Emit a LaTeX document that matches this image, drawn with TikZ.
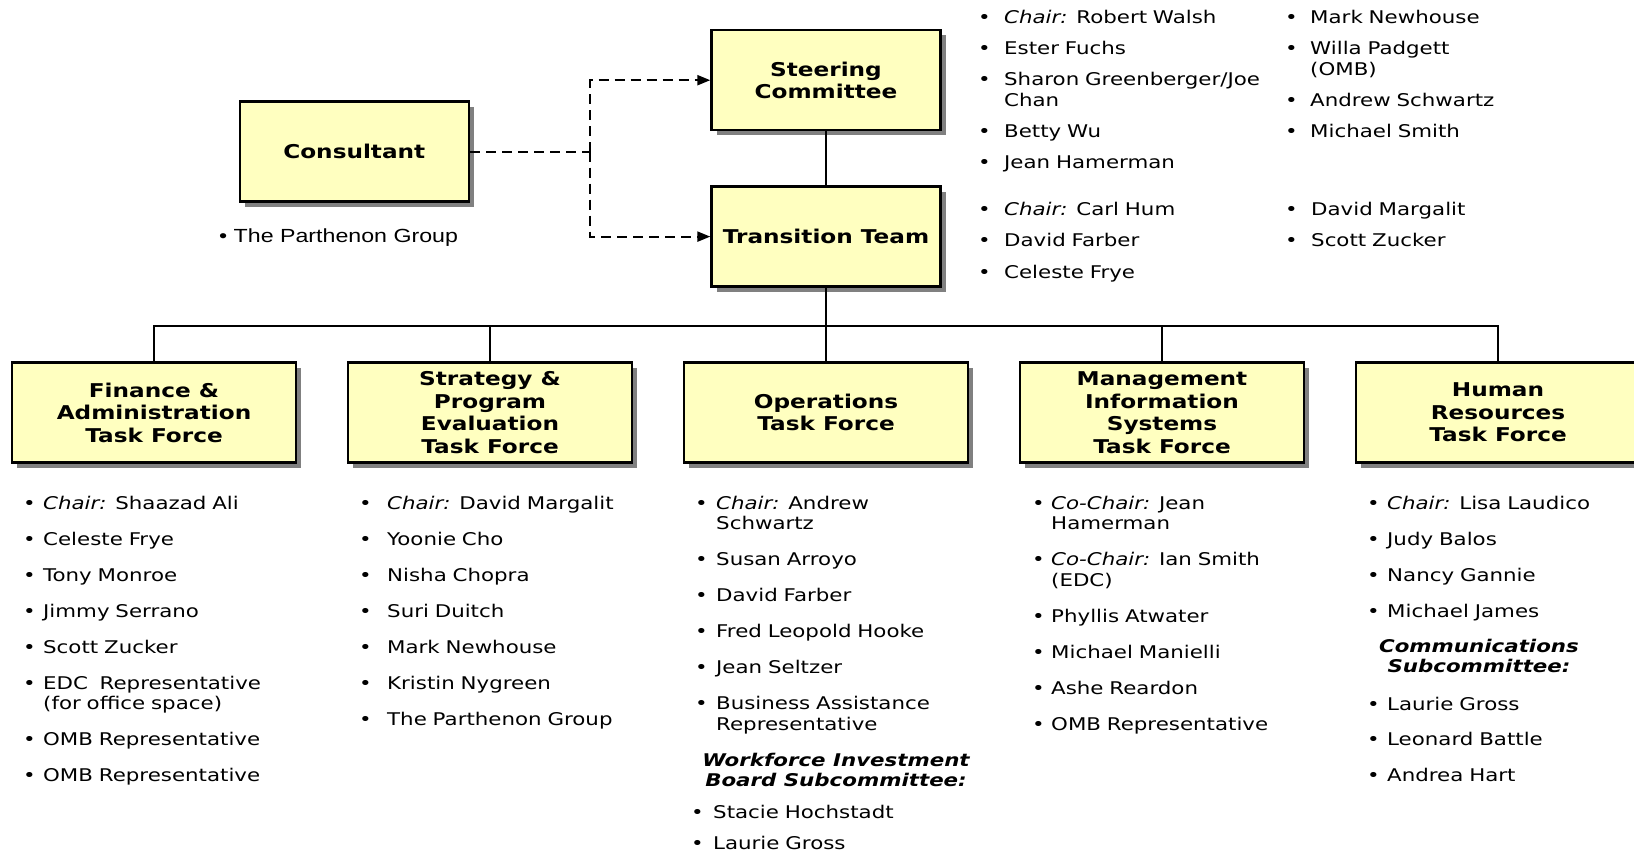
\documentclass[tikz,border=0pt]{standalone}
\usepackage{fontspec}
\setmainfont[FakeStretch=1.22]{DejaVu Sans}
\newfontfamily\arialfont[FakeStretch=1.22]{Liberation Sans}
\usetikzlibrary{arrows.meta,shadows}

\definecolor{boxyellow}{RGB}{255,255,192}
\newlength\bulletgap
\newcommand\titlefont{\fontsize{19}{22.5}\selectfont\bfseries}
\newcommand\listfont{\fontsize{17.5}{20.5}\selectfont}
\newcommand\li[1]{\noindent\hangindent=\bulletgap\hangafter=1\makebox[\bulletgap][l]{\textbullet}#1\par}
\newcommand\role[1]{\textit{#1:} }

\begin{document}
\begin{tikzpicture}[x=1pt, y=-1pt,
  sibling distance=336pt, level distance=176pt,
  orgbox/.style = {draw, line width=2.4pt, fill=boxyellow, align=center, font=\titlefont,
    minimum width=229pt, minimum height=100pt, inner sep=2pt,
    drop shadow={shadow xshift=5pt, shadow yshift=-5pt, fill=black!50, opacity=1}},
  taskbox/.style = {orgbox, minimum width=284pt},
  memberlist/.style 2 args = {anchor=north west, inner sep=0pt, text width=330pt, align=left,
    font=\listfont, execute at begin node={\setlength\bulletgap{#1}\setlength\parskip{#2}}},
  subhead/.style = {align=center, inner sep=0pt, font=\listfont\bfseries\itshape},
  link/.style = {line width=2.2pt, dash pattern=on 10pt off 6pt},
  linkarrow/.style = {-{Triangle[length=13pt, width=10pt]}},
  edge from parent/.style = {draw, line width=2.2pt},
  edge from parent path = {(\tikzparentnode.south) -- ++(0pt,-38.5pt) -| (\tikzchildnode.north)}]
  \path[use as bounding box, fill=white] (0,0) rectangle (1634,852);

  \node[orgbox] (cons) at (354.3,151.6) {Consultant};
  \node[anchor=west, inner sep=0pt, font=\arialfont\fontsize{19}{22}\selectfont] (consnote) at (219,237.5) {\textbullet\ The Parthenon Group};
  \node[orgbox] (steer) at (826,80.2) {Steering\\Committee};
  \node[orgbox] (trans) at (826,236.6) {Transition Team}
    child { node[taskbox] (fin) {Finance \&\\Administration\\Task Force} }
    child { node[taskbox] (strat) {Strategy \&\\Program\\Evaluation\\Task Force} }
    child { node[taskbox] (ops) {Operations\\Task Force} }
    child { node[taskbox] (mis) {Management\\Information\\Systems\\Task Force} }
    child { node[taskbox] (hr) {Human\\Resources\\Task Force} };

  \coordinate (split) at (cons.east -| 590,0);
  \draw[link] (cons.east) -- (split);
  \draw[link, linkarrow] (split) |- (steer.west);
  \draw[link, linkarrow] (split) |- (trans.west);
  \draw[line width=2.2pt] (steer) -- (trans);

  \node[memberlist={26pt}{10.5pt}] (steerlist1) at (978,10.5) {%
    \li{\role{Chair}Robert Walsh}
    \li{Ester Fuchs}
    \li{Sharon Greenberger/Joe\newline Chan}
    \li{Betty Wu}
    \li{Jean Hamerman}};
  \node[memberlist={25pt}{10.5pt}] (steerlist2) at (1285,10.5) {%
    \li{Mark Newhouse}
    \li{Willa Padgett\newline (OMB)}
    \li{Andrew Schwartz}
    \li{Michael Smith}};
  \node[memberlist={26pt}{11pt}] (translist1) at (978,201.5) {%
    \li{\role{Chair}Carl Hum}
    \li{David Farber}
    \li{Celeste Frye}};
  \node[memberlist={26pt}{11pt}] (translist2) at (1285,201.5) {%
    \li{David Margalit}
    \li{Scott Zucker}};

  \node[memberlist={20pt}{15.5pt}] (finlist) at (23,495.5) {%
    \li{\role{Chair}Shaazad Ali}
    \li{Celeste Frye}
    \li{Tony Monroe}
    \li{Jimmy Serrano}
    \li{Scott Zucker}
    \li{EDC\ \ Representative\newline (for office space)}
    \li{OMB Representative}
    \li{OMB Representative}};
  \node[memberlist={28pt}{15.5pt}] (stratlist) at (359,495.5) {%
    \li{\role{Chair}David Margalit}
    \li{Yoonie Cho}
    \li{Nisha Chopra}
    \li{Suri Duitch}
    \li{Mark Newhouse}
    \li{Kristin Nygreen}
    \li{The Parthenon Group}};
  \node[memberlist={21pt}{15.5pt}] (opslist) at (695,495.5) {%
    \li{\role{Chair}Andrew\newline Schwartz}
    \li{Susan Arroyo}
    \li{David Farber}
    \li{Fred Leopold Hooke}
    \li{Jean Seltzer}
    \li{Business Assistance\newline Representative}};
  \node[subhead] (wibhead) at (836,770) {Workforce Investment\\Board Subcommittee:};
  \node[memberlist={22pt}{10.5pt}] (wiblist) at (691,804.5) {%
    \li{Stacie Hochstadt}
    \li{Laurie Gross}};
  \node[memberlist={19pt}{15.5pt}] (mislist) at (1032,495.5) {%
    \li{\role{Co-Chair}Jean\newline Hamerman}
    \li{\role{Co-Chair}Ian Smith\newline (EDC)}
    \li{Phyllis Atwater}
    \li{Michael Manielli}
    \li{Ashe Reardon}
    \li{OMB Representative}};
  \node[memberlist={20pt}{15.5pt}] (hrlist) at (1367,495.5) {%
    \li{\role{Chair}Lisa Laudico}
    \li{Judy Balos}
    \li{Nancy Gannie}
    \li{Michael James}};
  \node[subhead] (commhead) at (1479,656) {Communications\\Subcommittee:};
  \node[memberlist={20pt}{15pt}] (commlist) at (1367,696.5) {%
    \li{Laurie Gross}
    \li{Leonard Battle}
    \li{Andrea Hart}};
\end{tikzpicture}
\end{document}
